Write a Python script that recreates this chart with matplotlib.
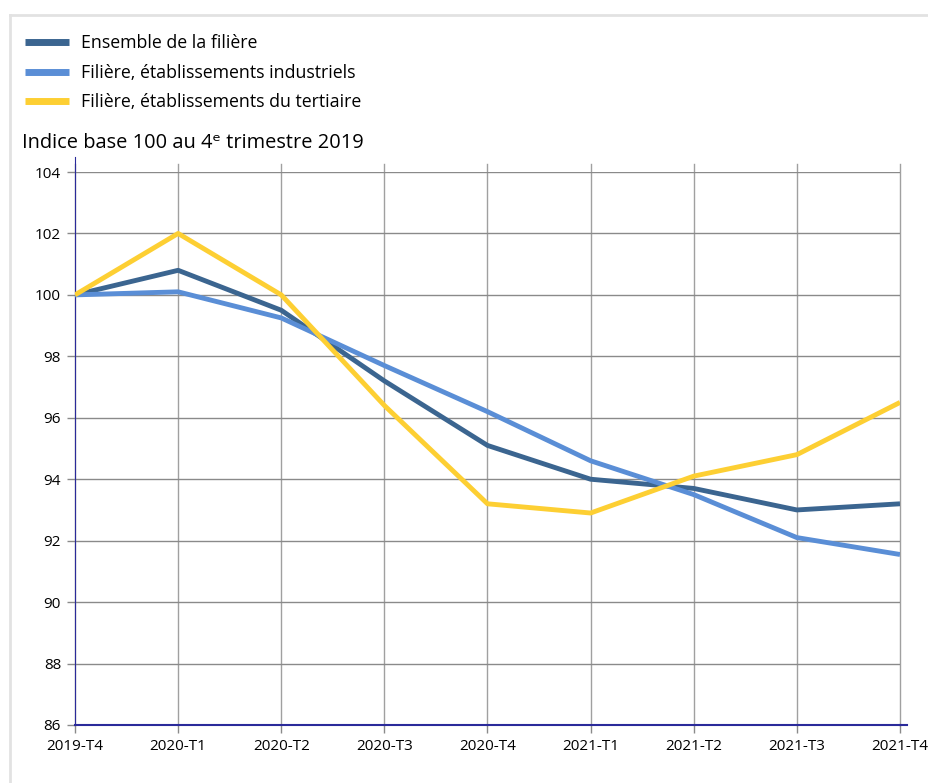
import matplotlib
matplotlib.use("Agg")
from matplotlib import pyplot as plt
from matplotlib import font_manager
from matplotlib.lines import Line2D

# data
trimestres = ["2019-T4", "2020-T1", "2020-T2", "2020-T3", "2020-T4",
              "2021-T1", "2021-T2", "2021-T3", "2021-T4"]
ensemble = [100.0, 100.8, 99.5, 97.2, 95.1, 94.0, 93.7, 93.0, 93.2]
industriels = [100.0, 100.1, 99.25, 97.7, 96.2, 94.6, 93.5, 92.1, 91.55]
tertiaire = [100.0, 102.0, 100.0, 96.4, 93.2, 92.9, 94.1, 94.8, 96.5]
noms = ["Ensemble de la filière",
        "Filière, établissements industriels",
        "Filière, établissements du tertiaire"]
couleurs = ["#3b6590", "#5a8ed6", "#fdcf33"]
yticks = list(range(86, 105, 2))

installed = {f.name for f in font_manager.fontManager.ttflist}
main_font = "Open Sans" if "Open Sans" in installed else "DejaVu Sans"
tick_font = "Liberation Sans Narrow" if "Liberation Sans Narrow" in installed else main_font
plt.rcParams['font.family'] = [main_font, 'DejaVu Sans']

fig = plt.figure(figsize=(9.29, 7.83), dpi=100)
W, H = 929, 783

# light frame around the chart
fig.add_artist(Line2D([10 / W, 1], [1 - 15 / H, 1 - 15 / H], color="#e2e2e2", lw=2))
fig.add_artist(Line2D([10 / W, 10 / W], [0, 1 - 15 / H], color="#e2e2e2", lw=2))

ax = fig.add_axes([75 / W, 58 / H, 825 / W, 553 / H])
x = list(range(len(trimestres)))

for xi in x:
    ax.plot([xi, xi], [86, 104.25], color="#a0a0a0", lw=1, clip_on=False, zorder=1)
for yt in yticks:
    ax.axhline(yt, color="#8a8a8a", lw=1, zorder=1)

for serie, nom, c in zip([ensemble, industriels, tertiaire], noms, couleurs):
    ax.plot(x, serie, color=c, lw=3.5, label=nom, zorder=3, solid_capstyle="butt")

ax.set_xlim(0, len(trimestres) - 1)
ax.set_ylim(86, 104)
ax.set_xticks(x)
ax.set_xticklabels(trimestres, fontsize=11, family=tick_font)
ax.set_yticks(yticks)
ax.set_yticklabels([str(v) for v in yticks], fontsize=11, family=tick_font)
ax.tick_params(axis="both", length=6, width=1, color="#8a8a8a", pad=4)
for s in ["top", "right"]:
    ax.spines[s].set_visible(False)
ax.spines["left"].set_color("#2a2a9a")
ax.spines["bottom"].set_color("#2a2a9a")
ax.spines["bottom"].set_linewidth(1.5)
ax.spines["left"].set_bounds(86, 104.5)
ax.plot([len(trimestres) - 1, len(trimestres) - 0.93], [86, 86], color="#2a2a9a",
        lw=1.5, clip_on=False)

fig.text(22 / W, 1 - 143 / H, "Indice base 100 au 4ᵉ trimestre 2019",
         fontsize=14.4, va="center", ha="left", family=[main_font, 'DejaVu Sans'])

leg = fig.legend(loc="upper left", bbox_to_anchor=(9 / W, 1 - 18 / H), frameon=False,
                 fontsize=12.8, handlelength=2.45, handletextpad=0.7, labelspacing=0.66)
for h in leg.get_lines():
    h.set_linewidth(5)

fig.savefig("out.png", dpi=100)
